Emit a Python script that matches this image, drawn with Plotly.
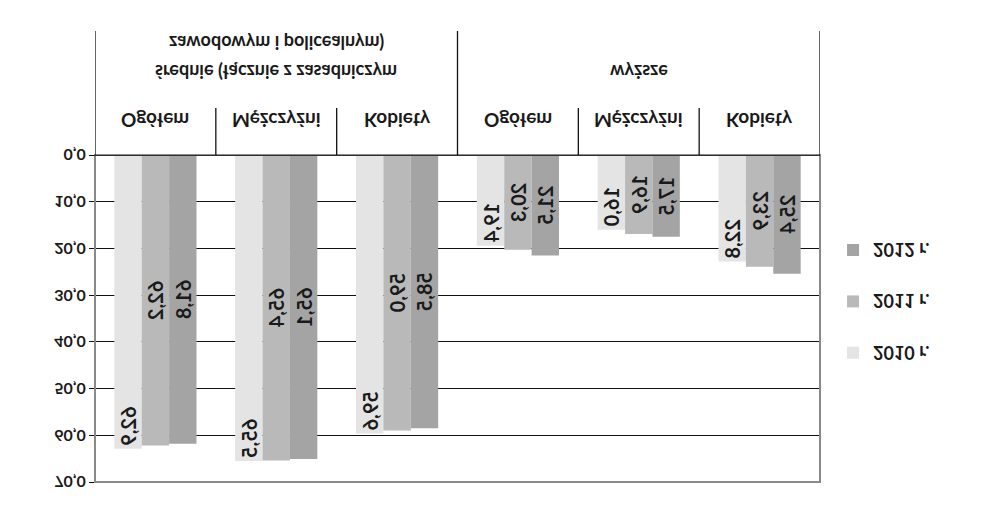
import plotly.graph_objects as go

# ---- data ----
group_line1 = ["średnie (łącznie z zasadniczym", "wyższe"]
group_line2 = ["zawodowym i policealnym)", ""]
subcats = ["Ogółem", "Mężczyźni", "Kobiety", "Ogółem", "Mężczyźni", "Kobiety"]
years = ["2010 r.", "2011 r.", "2012 r."]
v2010 = [62.9, 65.5, 59.6, 19.4, 16.0, 22.8]
v2011 = [62.2, 65.4, 59.0, 20.3, 16.9, 23.9]
v2012 = [61.8, 65.1, 58.5, 21.5, 17.5, 25.4]
yticks = [0, 10, 20, 30, 40, 50, 60, 70]

W, H = 1003, 517
ML, MR, MT, MB = 95, 183, 35, 155
PH = H - MT - MB

colors = ["#e4e4e4", "#b9b9b9", "#a4a4a4"]
anchors = ["end", "middle", "middle"]
FONT = "Lato"
TXT = "#1a1a1a"

xs = list(range(len(subcats)))
fig = go.Figure()
for name, vals, col, anc in zip(years, [v2010, v2011, v2012], colors, anchors):
    fig.add_trace(go.Bar(
        x=xs, y=vals, name=name, marker=dict(color=col, line=dict(width=0)),
        texttemplate="%{y:.1f}", textposition="inside", insidetextanchor=anc,
        textangle=-90, textfont=dict(family=FONT, size=20, color=TXT, weight="bold"),
        legendgroup=name,
    ))

shapes = []
shapes.append(dict(type="rect", xref="paper", yref="paper", x0=0, x1=1, y0=0, y1=1,
                   line=dict(color="#8a8a8a", width=2), layer="above"))
shapes.append(dict(type="line", xref="paper", yref="y", x0=-5/725, x1=1, y0=0, y1=0,
                   line=dict(color="#111", width=1.5), layer="above"))
n = len(subcats)
for i in range(n + 1):
    outer = i in (0, 3, 6)
    y1 = -(486 - 362) / PH if outer else -(409 - 362) / PH
    shapes.append(dict(type="line", xref="x", yref="paper", x0=i - 0.5, x1=i - 0.5,
                       y0=0, y1=y1, line=dict(color="#111", width=1.3)))

annotations = []
for i, s in enumerate(subcats):
    annotations.append(dict(x=i, y=-(396 - 362) / PH, xref="x", yref="paper", text=s,
                            showarrow=False, yanchor="middle",
                            font=dict(family=FONT, size=19, color=TXT, weight="bold")))
for g, (l1, l2) in enumerate(zip(group_line1, group_line2)):
    cx = 1 + 3 * g
    annotations.append(dict(x=cx, y=-(445 - 362) / PH, xref="x", yref="paper", text=l1,
                            showarrow=False, yanchor="middle",
                            font=dict(family=FONT, size=18, color=TXT, weight="bold")))
    if l2:
        annotations.append(dict(x=cx, y=-(474 - 362) / PH, xref="x", yref="paper", text=l2,
                                showarrow=False, yanchor="middle",
                                font=dict(family=FONT, size=18, color=TXT, weight="bold")))

fig.update_layout(
    width=W, height=H, margin=dict(l=ML, r=MR, t=MT, b=MB),
    paper_bgcolor="white", plot_bgcolor="white",
    separators=", ",
    barmode="group", bargap=0.32, bargroupgap=0,
    uniformtext=dict(mode="show", minsize=20),
    xaxis=dict(range=[-0.5, n - 0.5], showticklabels=False, showgrid=False,
               zeroline=False, showline=False, ticks=""),
    yaxis=dict(range=[0, 70], tickvals=yticks, tickformat=".1f", showgrid=True,
               gridcolor="#111", gridwidth=1, zeroline=False, showline=False,
               ticks="outside", ticklen=5, tickcolor="#111",
               tickfont=dict(family=FONT, size=16, color=TXT, weight="bold")),
    legend=dict(x=1.018, xanchor="left", y=(362 - 146) / PH, yanchor="top",
                bgcolor="rgba(0,0,0,0)",
                traceorder="grouped", tracegroupgap=25,
                font=dict(family=FONT, size=18, color=TXT, weight="bold"),
                itemclick=False),
    shapes=shapes, annotations=annotations,
    showlegend=True,
)

fig.write_html(
    "out.html",
    post_script=("document.body.style.margin='0';"
                 "var d=document.getElementById('{plot_id}');"
                 "d.style.transform='scaleY(-1)';d.style.transformOrigin='50% 50%';"),
)
